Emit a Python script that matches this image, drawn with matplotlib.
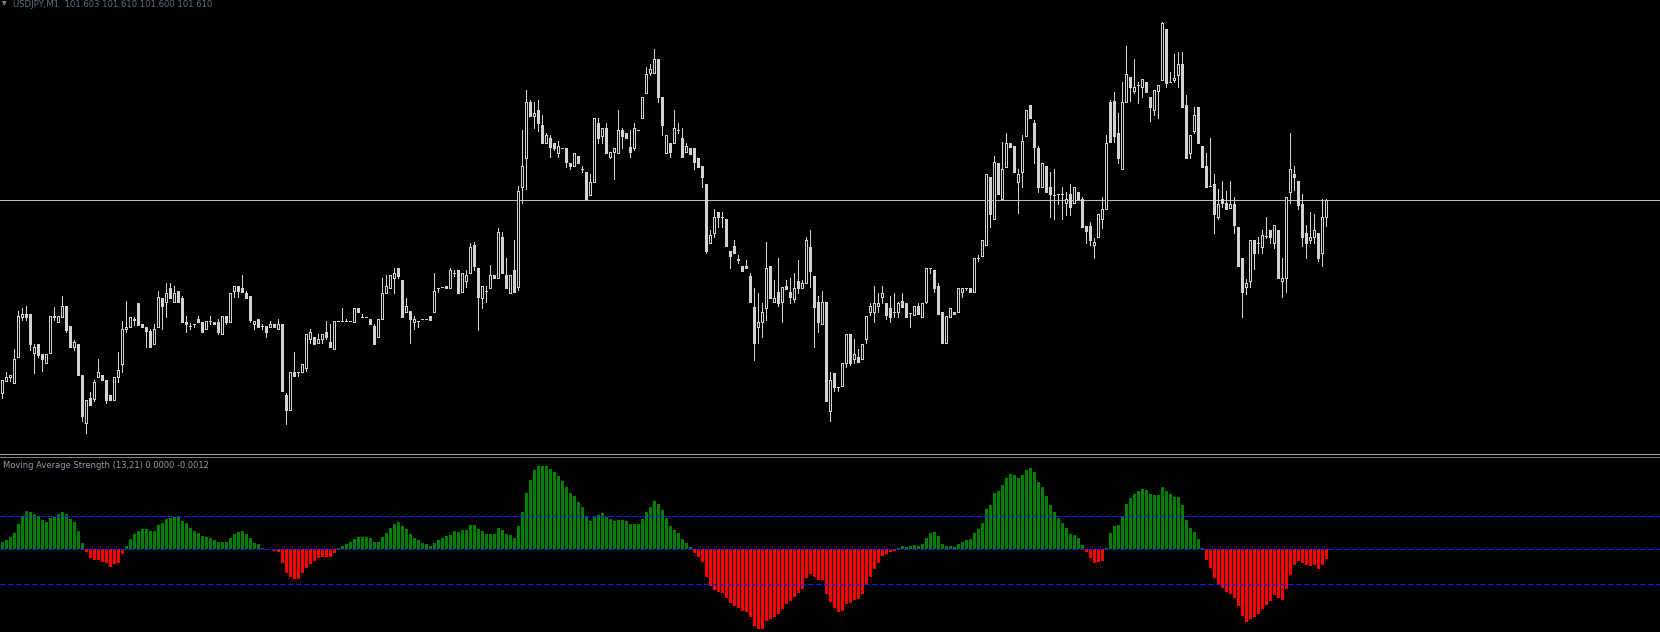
import matplotlib
matplotlib.use("Agg")
import matplotlib.pyplot as plt
from matplotlib.lines import Line2D
import numpy as np

# ---------------- data (USDJPY, M1) ----------------
opens = [
 101.417,101.429,101.433,101.427,101.453,101.493,101.496,101.496,101.457,101.466,
 101.456,101.447,101.457,101.494,101.488,101.493,101.504,101.484,101.463,101.466,
 101.435,101.387,101.412,101.411,101.433,101.435,101.430,101.415,101.410,101.433,
 101.446,101.481,101.483,101.490,101.507,101.486,101.483,101.479,101.466,101.483,
 101.512,101.508,101.522,101.508,101.519,101.512,101.488,101.484,101.486,101.491,
 101.488,101.481,101.489,101.488,101.488,101.476,101.494,101.488,101.519,101.524,
 101.522,101.517,101.514,101.486,101.491,101.484,101.484,101.483,101.486,101.481,
 101.486,101.415,101.400,101.438,101.438,101.438,101.442,101.471,101.473,101.467,
 101.471,101.478,101.468,101.461,101.489,101.489,101.489,101.489,101.488,101.502,
 101.493,101.493,101.491,101.484,101.473,101.491,101.517,101.522,101.532,101.542,
 101.530,101.498,101.499,101.488,101.489,101.491,101.491,101.494,101.498,101.522,
 101.523,101.524,101.522,101.537,101.540,101.518,101.529,101.537,101.565,101.542,
 101.512,101.519,101.522,101.535,101.532,101.573,101.535,101.517,101.540,101.523,
 101.623,101.652,101.708,101.694,101.700,101.685,101.667,101.672,101.667,101.657,
 101.662,101.662,101.647,101.644,101.654,101.641,101.638,101.615,101.628,101.687,
 101.674,101.682,101.653,101.658,101.657,101.680,101.677,101.663,101.662,101.680,
 101.692,101.717,101.737,101.737,101.751,101.713,101.657,101.667,101.667,101.680,
 101.672,101.658,101.662,101.662,101.652,101.644,101.626,101.567,101.577,101.598,
 101.593,101.591,101.559,101.564,101.550,101.544,101.544,101.534,101.503,101.483,
 101.488,101.502,101.544,101.508,101.518,101.508,101.524,101.518,101.511,101.529,
 101.522,101.527,101.563,101.534,101.508,101.486,101.508,101.399,101.437,101.423,
 101.424,101.447,101.476,101.451,101.453,101.451,101.471,101.498,101.498,101.504,
 101.513,101.507,101.502,101.498,101.498,101.509,101.507,101.497,101.495,101.504,
 101.493,101.508,101.542,101.540,101.524,101.498,101.467,101.493,101.498,101.498,
 101.518,101.522,101.522,101.518,101.552,101.554,101.565,101.633,101.591,101.647,
 101.611,101.643,101.667,101.664,101.628,101.638,101.674,101.705,101.687,101.662,
 101.623,101.644,101.623,101.615,101.616,101.616,101.607,101.616,101.607,101.618,
 101.611,101.584,101.584,101.565,101.573,101.591,101.601,101.708,101.709,101.677,
 101.641,101.708,101.733,101.719,101.725,101.723,101.728,101.713,101.700,101.719,
 101.730,101.781,101.728,101.730,101.735,101.746,101.705,101.657,101.679,101.703,
 101.664,101.644,101.624,101.626,101.593,101.611,101.607,101.602,101.606,101.583,
 101.552,101.523,101.529,101.570,101.567,101.563,101.574,101.580,101.567,101.580,
 101.529,101.532,101.618,101.636,101.629,101.606,101.577,101.570,101.573,101.577,
 101.557,101.593]

highs = [
 101.430,101.438,101.435,101.461,101.499,101.502,101.504,101.496,101.466,101.466,
 101.456,101.456,101.494,101.503,101.494,101.514,101.504,101.484,101.470,101.466,
 101.435,101.410,101.418,101.430,101.451,101.435,101.430,101.415,101.433,101.458,
 101.489,101.509,101.493,101.493,101.507,101.486,101.483,101.481,101.486,101.519,
 101.512,101.527,101.527,101.524,101.519,101.514,101.494,101.487,101.486,101.494,
 101.488,101.489,101.494,101.488,101.491,101.494,101.494,101.517,101.524,101.524,
 101.535,101.519,101.514,101.489,101.491,101.486,101.484,101.489,101.486,101.491,
 101.486,101.417,101.438,101.458,101.438,101.446,101.476,101.481,101.473,101.476,
 101.476,101.489,101.486,101.489,101.489,101.502,101.491,101.489,101.502,101.502,
 101.496,101.493,101.491,101.486,101.491,101.532,101.535,101.535,101.542,101.542,
 101.530,101.512,101.499,101.494,101.489,101.491,101.491,101.494,101.537,101.522,
 101.523,101.524,101.542,101.540,101.540,101.537,101.540,101.567,101.568,101.542,
 101.524,101.524,101.545,101.535,101.582,101.578,101.552,101.535,101.570,101.624,
 101.680,101.720,101.710,101.708,101.710,101.695,101.677,101.675,101.667,101.669,
 101.662,101.662,101.647,101.657,101.654,101.644,101.638,101.636,101.692,101.692,
 101.682,101.687,101.658,101.662,101.700,101.682,101.677,101.680,101.687,101.680,
 101.713,101.743,101.746,101.761,101.751,101.713,101.675,101.667,101.700,101.687,
 101.682,101.667,101.662,101.662,101.652,101.644,101.626,101.580,101.601,101.598,
 101.598,101.591,101.559,101.570,101.555,101.544,101.550,101.537,101.522,101.517,
 101.507,101.568,101.544,101.530,101.552,101.523,101.530,101.532,101.537,101.550,
 101.530,101.573,101.580,101.534,101.514,101.519,101.508,101.438,101.437,101.423,
 101.447,101.476,101.476,101.471,101.461,101.466,101.494,101.507,101.524,101.517,
 101.524,101.507,101.514,101.517,101.508,101.517,101.507,101.497,101.504,101.507,
 101.507,101.542,101.542,101.540,101.527,101.498,101.494,101.502,101.498,101.522,
 101.522,101.522,101.522,101.552,101.555,101.570,101.636,101.633,101.654,101.647,
 101.668,101.677,101.667,101.664,101.641,101.675,101.700,101.705,101.690,101.664,
 101.647,101.644,101.638,101.641,101.616,101.623,101.618,101.626,101.623,101.618,
 101.613,101.584,101.588,101.572,101.596,101.613,101.675,101.710,101.718,101.697,
 101.728,101.764,101.733,101.751,101.728,101.731,101.728,101.713,101.720,101.725,
 101.788,101.781,101.738,101.756,101.758,101.758,101.715,101.675,101.703,101.703,
 101.664,101.657,101.672,101.636,101.621,101.629,101.619,101.629,101.613,101.583,
 101.552,101.531,101.570,101.570,101.573,101.580,101.593,101.580,101.585,101.580,
 101.552,101.613,101.677,101.644,101.629,101.616,101.585,101.598,101.596,101.577,
 101.611,101.611]

lows = [
 101.412,101.429,101.429,101.427,101.453,101.490,101.490,101.460,101.437,101.453,
 101.439,101.447,101.457,101.490,101.488,101.493,101.478,101.463,101.460,101.435,
 101.389,101.377,101.405,101.409,101.433,101.430,101.407,101.410,101.410,101.428,
 101.438,101.478,101.483,101.485,101.485,101.483,101.463,101.463,101.466,101.483,
 101.481,101.493,101.512,101.508,101.508,101.488,101.478,101.481,101.483,101.488,
 101.478,101.481,101.486,101.486,101.476,101.476,101.486,101.488,101.513,101.513,
 101.518,101.512,101.488,101.481,101.483,101.481,101.473,101.483,101.483,101.481,
 101.419,101.386,101.400,101.434,101.434,101.438,101.439,101.467,101.466,101.467,
 101.467,101.471,101.463,101.461,101.489,101.489,101.489,101.489,101.488,101.498,
 101.493,101.493,101.486,101.466,101.473,101.491,101.517,101.522,101.517,101.532,
 101.493,101.498,101.467,101.481,101.483,101.491,101.491,101.490,101.498,101.518,
 101.523,101.522,101.522,101.534,101.517,101.518,101.523,101.537,101.540,101.480,
 101.502,101.508,101.522,101.532,101.532,101.537,101.522,101.517,101.518,101.520,
 101.607,101.621,101.694,101.682,101.679,101.667,101.667,101.653,101.660,101.653,
 101.662,101.643,101.641,101.644,101.647,101.638,101.611,101.615,101.628,101.667,
 101.667,101.657,101.652,101.631,101.657,101.662,101.672,101.653,101.660,101.680,
 101.692,101.717,101.735,101.737,101.708,101.675,101.657,101.653,101.667,101.677,
 101.653,101.658,101.656,101.641,101.643,101.623,101.557,101.567,101.573,101.583,
 101.583,101.564,101.542,101.557,101.547,101.539,101.542,101.508,101.450,101.467,
 101.473,101.490,101.512,101.508,101.504,101.488,101.521,101.507,101.508,101.517,
 101.522,101.527,101.523,101.463,101.478,101.486,101.409,101.389,101.419,101.419,
 101.424,101.443,101.445,101.447,101.448,101.451,101.467,101.495,101.488,101.498,
 101.507,101.491,101.488,101.493,101.493,101.503,101.493,101.483,101.495,101.496,
 101.493,101.507,101.537,101.518,101.496,101.467,101.467,101.493,101.496,101.498,
 101.513,101.520,101.518,101.518,101.549,101.554,101.565,101.583,101.591,101.616,
 101.611,101.643,101.663,101.638,101.597,101.623,101.674,101.692,101.647,101.618,
 101.623,101.618,101.593,101.591,101.606,101.591,101.595,101.595,101.607,101.611,
 101.583,101.567,101.565,101.552,101.573,101.582,101.601,101.668,101.668,101.647,
 101.641,101.708,101.709,101.717,101.707,101.713,101.718,101.689,101.695,101.692,
 101.730,101.723,101.728,101.728,101.723,101.703,101.652,101.652,101.677,101.667,
 101.643,101.623,101.624,101.577,101.591,101.603,101.601,101.602,101.577,101.544,
 101.493,101.516,101.523,101.541,101.557,101.557,101.572,101.567,101.562,101.532,
 101.513,101.518,101.607,101.620,101.601,101.564,101.552,101.567,101.567,101.549,
 101.544,101.584]

closes = [
 101.430,101.433,101.435,101.451,101.494,101.496,101.493,101.466,101.463,101.455,
 101.451,101.456,101.494,101.493,101.494,101.504,101.480,101.463,101.468,101.435,
 101.394,101.410,101.405,101.428,101.438,101.430,101.410,101.410,101.433,101.440,
 101.481,101.483,101.493,101.491,101.485,101.483,101.479,101.463,101.481,101.513,
 101.504,101.517,101.512,101.517,101.508,101.488,101.486,101.484,101.486,101.488,
 101.478,101.489,101.489,101.486,101.478,101.494,101.488,101.517,101.524,101.519,
 101.518,101.512,101.490,101.489,101.483,101.484,101.478,101.486,101.483,101.486,
 101.419,101.400,101.438,101.434,101.438,101.446,101.476,101.478,101.466,101.471,
 101.476,101.473,101.463,101.489,101.489,101.489,101.489,101.489,101.502,101.498,
 101.493,101.493,101.486,101.466,101.491,101.517,101.524,101.535,101.537,101.534,
 101.493,101.504,101.491,101.491,101.489,101.491,101.491,101.490,101.519,101.522,
 101.523,101.522,101.540,101.537,101.517,101.537,101.535,101.563,101.544,101.513,
 101.524,101.519,101.535,101.532,101.578,101.537,101.522,101.535,101.518,101.619,
 101.644,101.708,101.694,101.697,101.687,101.667,101.675,101.663,101.662,101.664,
 101.662,101.648,101.644,101.657,101.647,101.641,101.611,101.628,101.692,101.672,
 101.682,101.657,101.658,101.662,101.680,101.674,101.672,101.658,101.682,101.680,
 101.713,101.736,101.741,101.751,101.713,101.685,101.675,101.658,101.682,101.680,
 101.653,101.664,101.656,101.648,101.643,101.633,101.559,101.575,101.593,101.593,
 101.593,101.564,101.554,101.557,101.551,101.539,101.542,101.508,101.467,101.488,
 101.498,101.542,101.512,101.512,101.507,101.523,101.521,101.513,101.522,101.522,
 101.527,101.570,101.539,101.503,101.488,101.508,101.409,101.430,101.423,101.423,
 101.447,101.476,101.447,101.456,101.448,101.466,101.494,101.504,101.507,101.507,
 101.517,101.495,101.493,101.498,101.507,101.503,101.493,101.497,101.504,101.496,
 101.507,101.542,101.542,101.522,101.496,101.467,101.494,101.502,101.496,101.522,
 101.522,101.522,101.518,101.552,101.552,101.570,101.636,101.596,101.648,101.616,
 101.641,101.667,101.663,101.638,101.636,101.669,101.700,101.692,101.663,101.623,
 101.647,101.618,101.616,101.615,101.616,101.616,101.611,101.603,101.623,101.611,
 101.583,101.579,101.570,101.568,101.596,101.601,101.667,101.668,101.674,101.652,
 101.708,101.736,101.723,101.723,101.725,101.731,101.718,101.703,101.720,101.725,
 101.787,101.727,101.728,101.732,101.746,101.703,101.652,101.675,101.695,101.667,
 101.643,101.623,101.624,101.596,101.606,101.607,101.601,101.606,101.585,101.544,
 101.518,101.527,101.570,101.557,101.567,101.575,101.574,101.573,101.585,101.532,
 101.532,101.613,101.641,101.633,101.605,101.573,101.567,101.573,101.580,101.552,
 101.593,101.610]

# Moving Average Strength (13,21) histogram, in chart units (1 unit ~ 0.000129)
strength = [
 7.7, 9.3, 12.7, 16.7, 25.3, 33.3, 38.3, 37.0, 35.0, 33.3,
 29.3, 27.7, 31.7, 32.7, 35.0, 37.0, 35.0, 30.3, 27.7, 18.3,
 6.3, -2.3, -9.0, -10.7, -10.7, -12.3, -14.0, -17.3, -15.0, -13.3,
 -4.7, 3.3, 10.0, 15.0, 18.3, 20.3, 20.3, 18.3, 18.3, 24.3,
 26.0, 30.3, 31.7, 32.7, 32.7, 28.3, 26.0, 21.7, 18.3, 16.0,
 13.3, 12.7, 11.0, 9.3, 7.0, 7.0, 7.0, 11.0, 15.0, 17.7,
 18.3, 15.0, 11.0, 6.7, 5.0, 1.7, 0.7, 0.3, -1.7, -2.3,
 -14.0, -24.0, -27.3, -29.7, -29.7, -24.0, -19.0, -15.0, -11.7, -9.0,
 -7.3, -7.3, -7.3, -4.0, 1.0, 3.7, 5.0, 7.0, 10.3, 12.7,
 12.7, 12.7, 11.0, 7.0, 7.0, 12.7, 16.0, 21.7, 25.3, 27.0,
 23.7, 20.3, 15.0, 11.7, 9.3, 6.0, 5.0, 3.3, 6.0, 9.3,
 11.7, 13.3, 14.3, 18.3, 17.0, 19.3, 19.3, 24.3, 24.3, 20.3,
 18.3, 15.0, 15.0, 15.0, 21.0, 19.3, 15.0, 14.3, 11.0, 23.3,
 37.0, 56.0, 69.3, 79.3, 83.3, 83.3, 83.3, 80.3, 77.7, 73.7,
 68.3, 62.3, 56.3, 53.3, 47.3, 42.3, 33.3, 28.3, 32.3, 34.3,
 36.3, 32.3, 30.3, 28.3, 29.3, 29.3, 28.3, 25.3, 25.3, 25.3,
 30.3, 37.3, 42.3, 48.3, 45.3, 39.3, 31.3, 23.3, 19.3, 16.3,
 10.3, 6.3, 2.3, -3.3, -7.3, -12.3, -27.3, -36.3, -40.3, -42.3,
 -43.3, -48.3, -53.3, -56.3, -58.3, -61.3, -62.3, -67.3, -76.3, -79.3,
 -79.3, -71.3, -69.3, -67.3, -64.3, -59.3, -54.3, -51.3, -47.3, -43.3,
 -39.3, -28.3, -24.3, -27.3, -30.3, -30.3, -44.3, -52.3, -58.3, -62.3,
 -61.3, -54.3, -53.3, -50.3, -49.3, -44.3, -35.3, -27.3, -19.3, -13.3,
 -6.3, -4.3, -3.0, -1.3, 1.0, 3.3, 2.3, 3.3, 4.3, 3.3,
 5.3, 11.3, 16.3, 17.3, 13.3, 5.3, 3.3, 3.3, 2.3, 5.3,
 7.3, 9.3, 10.3, 16.3, 20.3, 26.3, 40.3, 44.3, 56.3, 58.3,
 64.3, 71.3, 75.3, 74.3, 71.3, 74.3, 79.3, 81.3, 77.3, 67.3,
 62.3, 53.3, 44.3, 37.3, 31.3, 26.3, 21.3, 15.3, 14.3, 11.3,
 4.3, -2.3, -8.3, -13.3, -12.3, -11.3, 1.0, 16.3, 23.3, 24.3,
 32.3, 45.3, 51.3, 55.3, 58.3, 60.3, 59.3, 55.3, 54.3, 54.3,
 62.3, 58.3, 55.3, 52.3, 52.3, 44.3, 29.3, 21.3, 17.3, 10.3,
 1.3, -10.7, -18.3, -28.3, -34.3, -38.3, -42.3, -44.3, -48.3, -56.3,
 -66.3, -72.3, -69.3, -67.3, -64.3, -59.3, -55.3, -51.3, -45.3, -48.3,
 -50.3, -39.3, -25.3, -15.3, -11.3, -13.3, -15.3, -16.3, -15.3, -19.3,
 -15.3, -9.3]

levels = [33.0, 0.0, -35.0]
bid_price = 101.610
main_title = "USDJPY,M1  101.603 101.610 101.600 101.610"
ind_title = "Moving Average Strength (13,21) 0.0000 -0.0012"

# ---------------- layout (pixels) ----------------
W, H = 1660, 632
BAR_PX = 4.0
FIRST_PX = 2.3
fig = plt.figure(figsize=(W / 100, H / 100), dpi=100, facecolor="black")


def px_axes(top, bottom):
    a = fig.add_axes([0, 1 - bottom / H, 1, (bottom - top) / H])
    a.set_facecolor("black")
    for s in a.spines.values():
        s.set_visible(False)
    a.set_xticks([])
    a.set_yticks([])
    a.set_xlim(-FIRST_PX / BAR_PX, (W - FIRST_PX) / BAR_PX)
    return a


ax = px_axes(0, 452)
ax2 = px_axes(458, 632)

o = np.array(opens)
h = np.array(highs)
l = np.array(lows)
c = np.array(closes)
x = np.arange(len(o))

ax.set_ylim(101.358, 101.810)
CANDLE = "#d2d2d2"
LW = 0.72
ax.vlines(x, l, h, color=CANDLE, lw=LW, antialiased=False, zorder=2)
bull = c >= o
bottoms = np.minimum(o, c)
heights = np.abs(c - o)
ax.bar(x[bull], heights[bull], bottom=bottoms[bull], width=0.5,
       facecolor="black", edgecolor=CANDLE, linewidth=LW,
       antialiased=False, zorder=3)
ax.bar(x[~bull], heights[~bull], bottom=bottoms[~bull], width=0.5,
       facecolor=CANDLE, edgecolor=CANDLE, linewidth=LW,
       antialiased=False, zorder=3)
ax.axhline(bid_price, color="#bcbcbc", lw=LW, antialiased=False, zorder=1)

# indicator (zero at pixel row 549.3)
s = np.array(strength)
ax2.set_ylim(-(632 - 549.3), 549.3 - 458)
cols = np.where(s >= 0, "#008000", "#ff0000")
ax2.bar(x, s, width=0.75, color=cols, linewidth=0, antialiased=False, zorder=2)
for lv in levels:
    ax2.axhline(lv, color="#1818e0", lw=LW, ls=(0, (5.5, 2.8)),
                antialiased=False, zorder=3)

# separator: two thin lines with a dark gap
for yy, colr in ((453.5, "#a8a8a8"), (456.5, "#7c7c7c")):
    fig.add_artist(Line2D([0, 1], [1 - yy / H, 1 - yy / H],
                          transform=fig.transFigure, color=colr, lw=0.6,
                          antialiased=False))

# labels
fig.text(2.0 / W, 1 - 5.5 / H, "\u25bc", color="#8a8a8a", fontsize=4.2,
         ha="left", va="baseline", family="DejaVu Sans")
fig.text(13.0 / W, 1 - 6.6 / H, main_title, color="#5a6d88", fontsize=6.1,
         ha="left", va="baseline", family="DejaVu Sans")
fig.text(3.0 / W, 1 - 468.5 / H, ind_title, color="#929daa", fontsize=6.0,
         ha="left", va="baseline", family="DejaVu Sans")

fig.savefig("out.png", dpi=100, facecolor="black")
